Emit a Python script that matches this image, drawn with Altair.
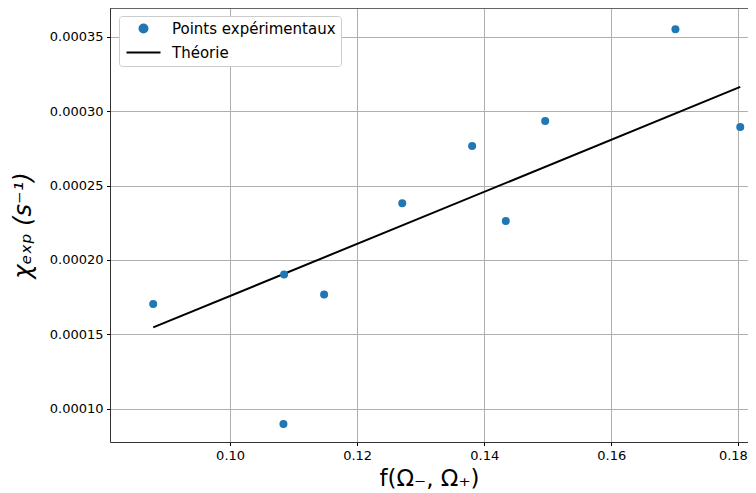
import altair as alt
import pandas as pd

x_exp = [0.0879, 0.1084, 0.1085, 0.1148, 0.1271, 0.1381, 0.1434, 0.1496, 0.1701, 0.1803]
y_exp = [0.0001704, 0.0000896, 0.0001902, 0.0001768, 0.0002381, 0.0002767, 0.0002262, 0.0002935, 0.0003552, 0.0002894]

# Theory line end points
x_theo = [0.0879, 0.1803]
y_theo = [0.0001546, 0.0003164]

series_names = ["Points expérimentaux", "Théorie"]
series_colors = ["#1f77b4", "black"]

x_ticks = [0.10, 0.12, 0.14, 0.16, 0.18]
y_ticks = [0.00010, 0.00015, 0.00020, 0.00025, 0.00030, 0.00035]
x_domain = [0.0811, 0.18152]
y_domain = [0.0000775, 0.0003695]

df_exp = pd.DataFrame({"x": x_exp, "y": y_exp, "series": series_names[0]})
df_theo = pd.DataFrame({"x": x_theo, "y": y_theo, "series": series_names[1]})

FONT = "DejaVu Sans"
W, H = 638, 434

x_enc = alt.X(
    "x:Q",
    scale=alt.Scale(domain=x_domain, nice=False, zero=False),
    axis=alt.Axis(values=x_ticks, format=".2f", title="f(Ω₋, Ω₊)",
                  titleFontSize=23, titleFont=FONT, titleFontWeight="normal",
                  titlePadding=5, titleColor="black",
                  labelFlush=12, labelFlushOffset=9),
)
y_enc = alt.Y(
    "y:Q",
    scale=alt.Scale(domain=y_domain, nice=False, zero=False),
    axis=alt.Axis(values=y_ticks, format=".5f", title="χₑₓₚ (s⁻¹)",
                  titleFontSize=24, titleFont=FONT, titleFontWeight="normal",
                  titleFontStyle="italic",
                  titlePadding=14, titleColor="black"),
)

is_theo = "datum.value === 'Théorie'"
legend = alt.Legend(
    title=None, orient="none", legendX=9, legendY=8,
    fillColor="white", strokeColor="#cccccc", cornerRadius=3, padding=5,
    labelFont=FONT, labelFontSize=15, labelColor="black", labelOffset=21,
    labelLimit=400,
    symbolSize=64, symbolOffset=12, rowPadding=8, symbolStrokeWidth=2,
    symbolOpacity=1,
    symbolType=alt.ExprRef(expr=f"{is_theo} ? 'M-4.25,0H4.25' : 'circle'"),
    symbolFillColor=alt.ExprRef(expr=f"{is_theo} ? 'transparent' : '#1f77b4'"),
    symbolStrokeColor=alt.ExprRef(expr=f"{is_theo} ? 'black' : 'transparent'"),
)

color_enc = alt.Color("series:N",
                      scale=alt.Scale(domain=series_names, range=series_colors),
                      legend=legend)

line = alt.Chart(df_theo).mark_line(strokeWidth=2).encode(x=x_enc, y=y_enc, color=color_enc)
pts = alt.Chart(df_exp).mark_circle(size=64, opacity=1).encode(x=x_enc, y=y_enc, color=color_enc)
# top spine (right spine is cut off in the reference)
top_spine = alt.Chart(df_theo).mark_rule(color="#333333", strokeWidth=1).encode(
    x=alt.value(0), x2=alt.value(W), y=alt.value(0)
)

chart = alt.layer(line, pts, top_spine).properties(
    width=W, height=H,
    autosize=alt.AutoSizeParams(type="none"),
    padding={"left": 102, "top": 0, "right": 0, "bottom": 51},
    background="white",
).configure_view(
    stroke=None, fill="white"
).configure_axis(
    labelFont=FONT, labelFontSize=13, labelColor="black", labelPadding=3.5,
    tickColor="black", tickSize=3.5, tickWidth=1,
    domainColor="#333333", domainWidth=1,
    gridColor="#b0b0b0", gridWidth=1,
)

chart.save("out.html", embed_options={"renderer": "svg", "actions": False})
